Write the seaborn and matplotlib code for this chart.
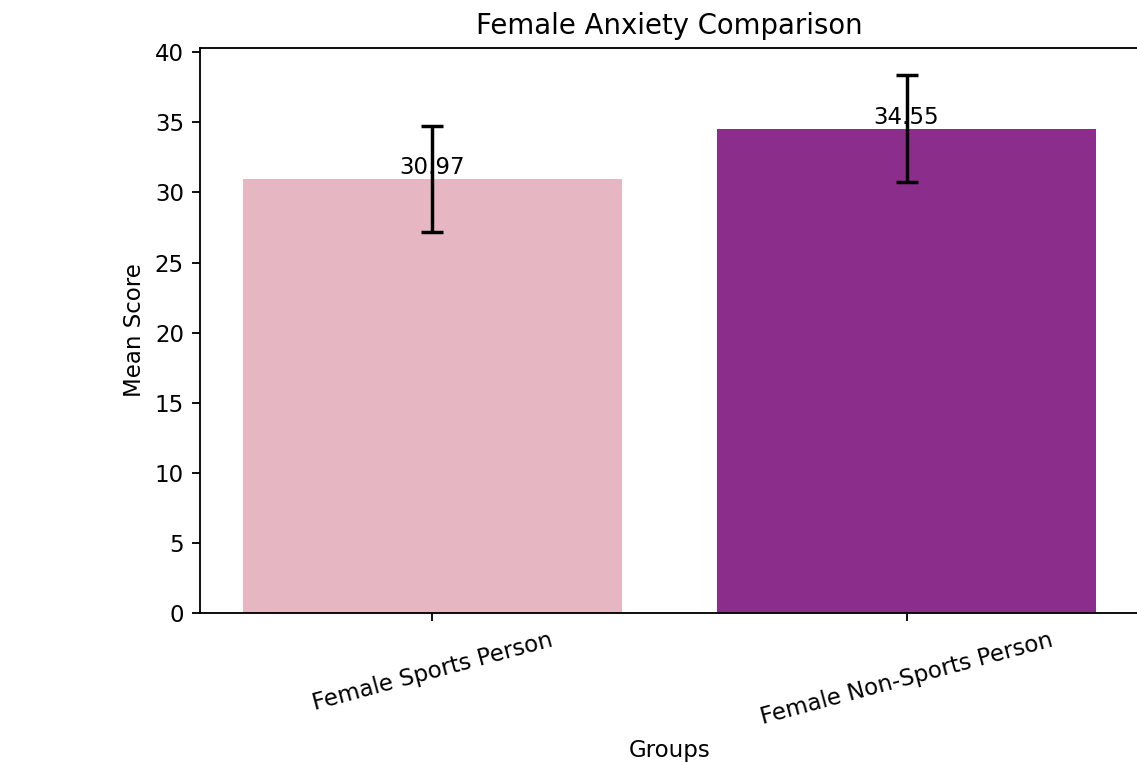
import matplotlib
matplotlib.use("Agg")
import matplotlib.pyplot as plt
import seaborn as sns
import pandas as pd

groups = ["Female Sports Person", "Female Non-Sports Person"]
means = [30.97, 34.55]
errors = [3.8, 3.82]
colors = ["#E6B7C3", "#8B2D8B"]

df = pd.DataFrame({"Group": groups, "Mean": means})

DPI = 165
fig = plt.figure(figsize=(1137 / DPI, 762 / DPI), dpi=DPI)
ax = fig.add_axes([200 / 1137, 1 - 613 / 762, 939 / 1137, (613 - 48) / 762])

sns.barplot(data=df, x="Group", y="Mean", hue="Group", palette=colors,
            errorbar=None, legend=False, ax=ax, width=0.8, saturation=1)
xs = list(range(len(groups)))
ax.errorbar(xs, means, yerr=errors, fmt="none", ecolor="black",
            elinewidth=1.5, capsize=5, capthick=1.5)
for x, m in zip(xs, means):
    ax.text(x, m, f"{m:.2f}", ha="center", va="bottom", fontsize=10)

ax.set_xlim(-0.49, 1.49)
ax.set_ylim(0, 40.3)
ax.set_title("Female Anxiety Comparison", fontsize=12)
ax.set_xlabel("Groups")
ax.set_ylabel("Mean Score")
plt.setp(ax.get_xticklabels(), rotation=15)

fig.savefig("out.png", dpi=DPI)
